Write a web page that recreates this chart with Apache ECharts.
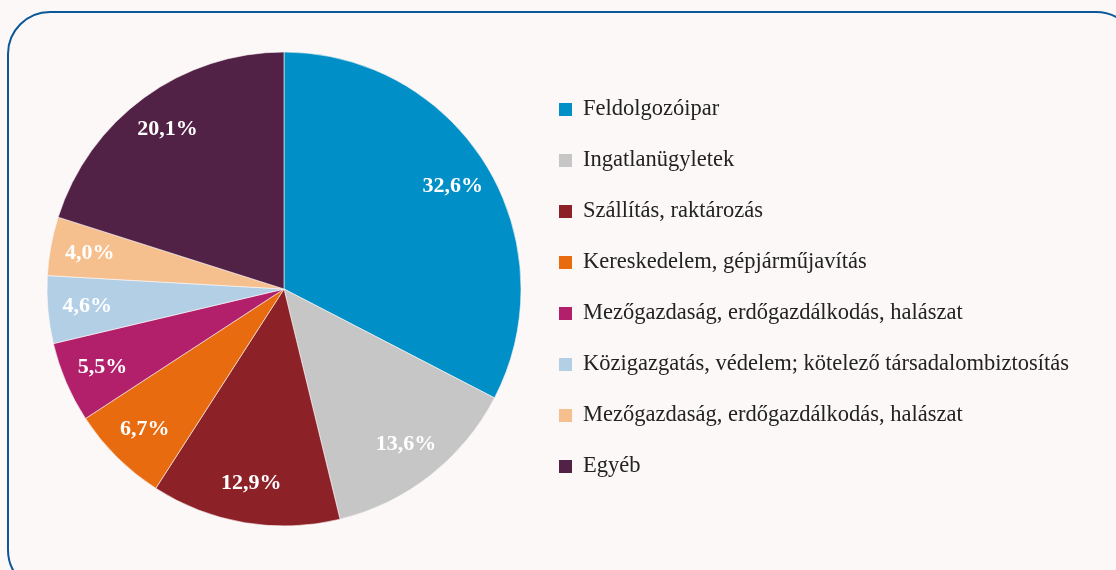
<!DOCTYPE html>
<html>
<head>
<meta charset="utf-8">
<script src="https://cdn.jsdelivr.net/npm/echarts@6/dist/echarts.min.js"></script>
<style>
html, body { margin: 0; padding: 0; background: #fbf8f7; }
#chartDom { width: 1116px; height: 570px; }
</style>
</head>
<body>
<div id="chartDom"></div>
<script>
// adatok
const categories = [
  "Feldolgozóipar",
  "Ingatlanügyletek",
  "Szállítás, raktározás",
  "Kereskedelem, gépjárműjavítás",
  "Mezőgazdaság, erdőgazdálkodás, halászat",
  "Közigazgatás, védelem; kötelező társadalombiztosítás",
  "Mezőgazdaság, erdőgazdálkodás, halászat ",
  "Egyéb"
];
const shares = [32.6, 13.6, 12.9, 6.7, 5.5, 4.6, 4.0, 20.1];
const colors = ["#008fc6", "#c6c6c6", "#8d2128", "#e86b10", "#b21f6a", "#b3cfe6", "#f6c08e", "#512246"];

const serif = '"Liberation Serif", "DejaVu Serif", serif';
const pieData = categories.map((name, i) => ({ name: name, value: shares[i] }));

let myChart = echarts.init(document.getElementById("chartDom"));
myChart.setOption({
  backgroundColor: "#fbf8f7",
  color: colors,
  animation: false,
  graphic: [{
    type: "rect",
    shape: { x: 8, y: 12, width: 1130, height: 580, r: 42 },
    style: { fill: "none", stroke: "#0b5797", lineWidth: 2 },
    z: -1
  }],
  legend: {
    orient: "vertical",
    left: 557,
    top: 98,
    padding: 0,
    itemWidth: 15,
    itemHeight: 15,
    itemGap: 28,
    icon: "rect",
    data: categories,
    textStyle: { fontFamily: serif, fontSize: 22.5, color: "#222", lineHeight: 19, padding: [0, 0, 0, 5] }
  },
  series: [
    {
      type: "pie",
      center: [284, 289],
      radius: [0, 237],
      startAngle: 90,
      clockwise: true,
      silent: true,
      label: { show: false },
      labelLine: { show: false },
      itemStyle: { borderColor: "#fbf8f7", borderWidth: 0.6 },
      data: pieData
    },
    {
      // csak a feliratokhoz
      type: "pie",
      center: [284, 289],
      radius: [152, 237],
      startAngle: 90,
      clockwise: true,
      silent: true,
      itemStyle: { color: "transparent" },
      label: {
        show: true,
        position: "inside",
        color: "#fff",
        fontFamily: serif,
        fontWeight: "bold",
        fontSize: 22,
        formatter: p => p.value.toFixed(1).replace(".", ",") + "%"
      },
      labelLine: { show: false },
      data: pieData
    }
  ]
});
</script>
</body>
</html>
